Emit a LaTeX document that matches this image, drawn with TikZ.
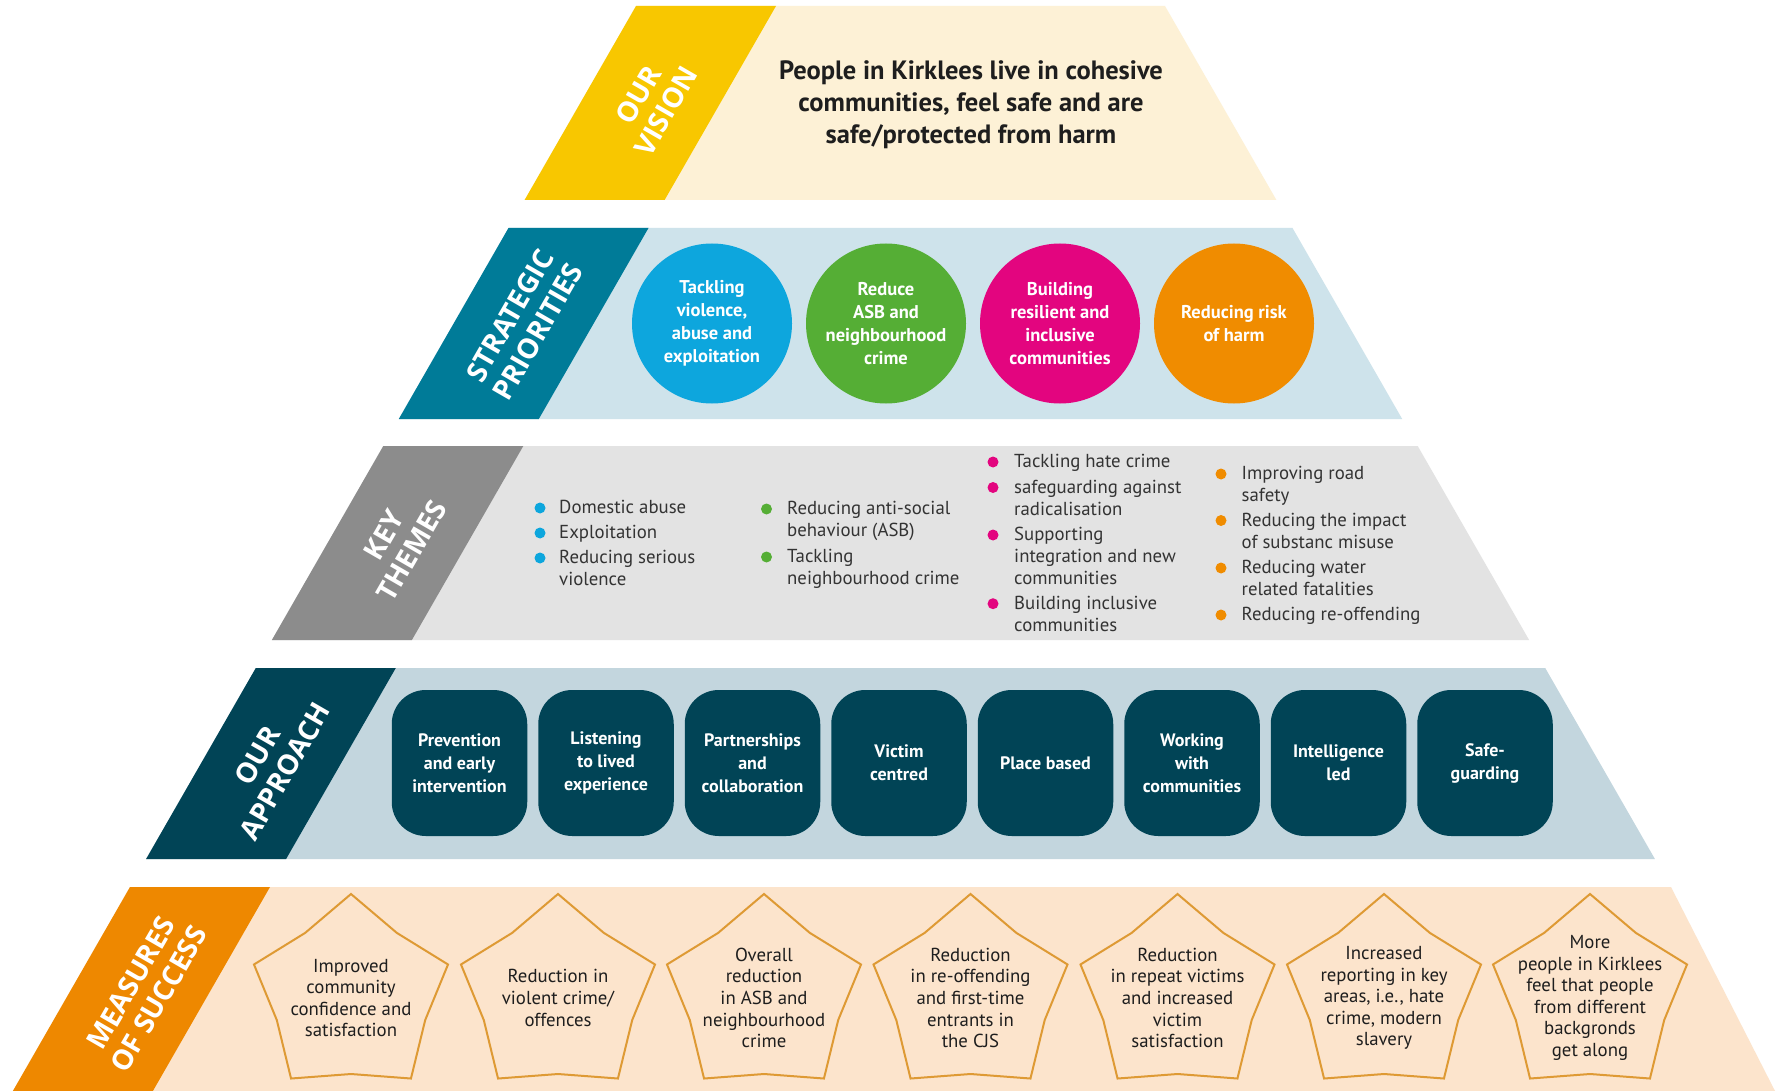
\documentclass[tikz,border=0pt]{standalone}
\usepackage{fontspec}
\setmainfont{PT Sans}
\newfontfamily\labelfont{Open Sans}
\usetikzlibrary{calc}
\definecolor{visband}{HTML}{F8C700}
\definecolor{visbg}{HTML}{FDF1D6}
\definecolor{priband}{HTML}{007B98}
\definecolor{pribg}{HTML}{CEE3EB}
\definecolor{cblue}{HTML}{0DA6DD}
\definecolor{cgreen}{HTML}{55AE35}
\definecolor{cmag}{HTML}{E3057F}
\definecolor{corange}{HTML}{F08C00}
\definecolor{themeband}{HTML}{8C8C8C}
\definecolor{themebg}{HTML}{E3E3E3}
\definecolor{appdark}{HTML}{014456}
\definecolor{appbg}{HTML}{C3D6DE}
\definecolor{msband}{HTML}{EE8800}
\definecolor{msbg}{HTML}{FCE4CC}
\definecolor{starcol}{HTML}{DE9A34}
\definecolor{bodytext}{HTML}{333333}
\definecolor{darktext}{HTML}{1E1E1E}
\begin{document}
\begin{tikzpicture}[x=1pt,y=-1pt,
  lab/.style={rotate=60,align=center,text=white,inner sep=0,
    font=\labelfont\bfseries\fontsize{28}{32}\selectfont},
  circ/.style={circle,minimum size=160,inner sep=0,text=white,align=center,
    font=\bfseries\fontsize{18.5}{23}\selectfont},
  item/.style={anchor=north west,align=left,inner sep=0,text=bodytext,
    font=\fontsize{18.8}{22}\selectfont},
  bul/.style={circle,inner sep=0,minimum size=11},
  appbox/.style={rectangle,rounded corners=34,minimum width=135.5,minimum height=146,
    fill=appdark,text=white,align=center,inner sep=0,
    font=\bfseries\fontsize{18}{23}\selectfont},
  starline/.style={draw=starcol,line width=2,line join=miter},
  startext/.style={align=center,inner sep=0,text=darktext,
    font=\fontsize{18.8}{21.6}\selectfont}
]
\useasboundingbox (0,0) rectangle (1786,1091);
\fill[white] (0,0) rectangle (1786,1091);

% ---------- Tier 1: vision
\fill[visbg] (636,6) -- (1165,6) -- (1276.4,200) -- (524.6,200) -- cycle;
\fill[visband] (636,6) -- (776,6) -- (664.6,200) -- (524.6,200) -- cycle;
\node[lab] (lvision) at (652,103) {OUR\\VISION};
\node[align=center,text=darktext,inner sep=0,
  font=\bfseries\fontsize{26.5}{32}\selectfont] (vision) at (971,105)
  {People in Kirklees live in cohesive\\communities, feel safe and are\\safe/protected from harm};

% ---------- Tier 2: strategic priorities
\fill[pribg] (508.5,228) -- (1292.5,228) -- (1402.2,419) -- (398.8,419) -- cycle;
\fill[priband] (508.5,228) -- (648.5,228) -- (538.8,419) -- (398.8,419) -- cycle;
\node[lab] (lprior) at (524,323.5) {STRATEGIC\\PRIORITIES};
\node[circ,fill=cblue] (c1) at (712,323.5) {Tackling\\violence,\\abuse and\\exploitation};
\node[circ,fill=cgreen] (c2) at (886,323.5) {Reduce\\ASB and\\neighbourhood\\crime};
\node[circ,fill=cmag] (c3) at (1060,323.5) {Building\\resilient and\\inclusive\\communities};
\node[circ,fill=corange] (c4) at (1234,323.5) {Reducing risk\\of harm};

% ---------- Tier 3: key themes
\fill[themebg] (383.3,446) -- (1417.7,446) -- (1529.1,640) -- (271.9,640) -- cycle;
\fill[themeband] (383.3,446) -- (523.3,446) -- (411.9,640) -- (271.9,640) -- cycle;
\node[lab] (lthemes) at (398,543) {KEY\\THEMES};
% column 1
\node[bul,fill=cblue] (b11) at (540,508) {};
\node[item] (t11) at (559,500) {Domestic abuse};
\node[bul,fill=cblue] (b12) at (540,533) {};
\node[item] (t12) at (559,525) {Exploitation};
\node[bul,fill=cblue] (b13) at (540,558) {};
\node[item] (t13) at (559,550) {Reducing serious\\violence};
% column 2
\node[bul,fill=cgreen] (b21) at (766.5,509) {};
\node[item] (t21) at (787,501) {Reducing anti-social\\behaviour (ASB)};
\node[bul,fill=cgreen] (b22) at (766.5,557) {};
\node[item] (t22) at (787,549) {Tackling\\neighbourhood crime};
% column 3
\node[bul,fill=cmag] (b31) at (993,462) {};
\node[item] (t31) at (1014,454) {Tackling hate crime};
\node[bul,fill=cmag] (b32) at (993,487.5) {};
\node[item] (t32) at (1014,479.5) {safeguarding against\\radicalisation};
\node[bul,fill=cmag] (b33) at (993,535) {};
\node[item] (t33) at (1014,527) {Supporting\\integration and new\\communities};
\node[bul,fill=cmag] (b34) at (993,603.7) {};
\node[item] (t34) at (1014,595.7) {Building inclusive\\communities};
% column 4
\node[bul,fill=corange] (b41) at (1221,474) {};
\node[item] (t41) at (1241.5,466) {Improving road\\safety};
\node[bul,fill=corange] (b42) at (1221,520.5) {};
\node[item] (t42) at (1241.5,512.5) {Reducing the impact\\of substanc misuse};
\node[bul,fill=corange] (b43) at (1221,568) {};
\node[item] (t43) at (1241.5,560) {Reducing water\\related fatalities};
\node[bul,fill=corange] (b44) at (1221,615) {};
\node[item] (t44) at (1241.5,607) {Reducing re-offending};

% ---------- Tier 4: our approach
\fill[appbg] (255.8,668) -- (1545.2,668) -- (1654.9,859) -- (146.1,859) -- cycle;
\fill[appdark] (255.8,668) -- (395.8,668) -- (286.1,859) -- (146.1,859) -- cycle;
\node[lab] (lapproach) at (271,763.5) {OUR\\APPROACH};
\node[appbox] (a1) at (459.5,763) {Prevention\\and early\\intervention};
\node[appbox] (a2) at (606,763) {Listening\\to lived\\experience};
\node[appbox] (a3) at (752.5,763) {Partnerships\\and\\collaboration};
\node[appbox] (a4) at (899,763) {Victim\\centred};
\node[appbox] (a5) at (1045.5,763) {Place based};
\node[appbox] (a6) at (1192,763) {Working\\with\\communities};
\node[appbox] (a7) at (1338.5,763) {Intelligence\\led};
\node[appbox] (a8) at (1485,763) {Safe-\\guarding};

% ---------- Tier 5: measures of success
\fill[msbg] (130,887) -- (1671,887) -- (1775,1091) -- (12.9,1091) -- cycle;
\fill[msband] (130,887) -- (270,887) -- (152.9,1091) -- (12.9,1091) -- cycle;
\node[lab] (lmeasures) at (145,991) {MEASURES\\OF SUCCESS};
\foreach \cx in {351,558,764,970.5,1177.5,1384,1590}{
  \begin{scope}[shift={(\cx,996)}]
    \draw[starline] (-90:102) -- (-126:78) -- (-162:102) -- (-198:78) -- (-234:102)
      -- (-270:78) -- (-306:102) -- (-342:78) -- (-378:102) -- (-414:78) -- cycle;
  \end{scope}
}
\node[startext] (m1) at (351,998) {Improved\\community\\confidence and\\satisfaction};
\node[startext] (m2) at (558,998) {Reduction in\\violent crime/\\offences};
\node[startext] (m3) at (764,998) {Overall\\reduction\\in ASB and\\neighbourhood\\crime};
\node[startext] (m4) at (970.5,998) {Reduction\\in re-offending\\and first-time\\entrants in\\the CJS};
\node[startext] (m5) at (1177.5,998) {Reduction\\in repeat victims\\and increased\\victim\\satisfaction};
\node[startext] (m6) at (1384,998) {Increased\\reporting in key\\areas, i.e., hate\\crime, modern\\slavery};
\node[startext] (m7) at (1590,998) {More\\people in Kirklees\\feel that people\\from different\\backgronds\\get along};
\end{tikzpicture}
\end{document}
